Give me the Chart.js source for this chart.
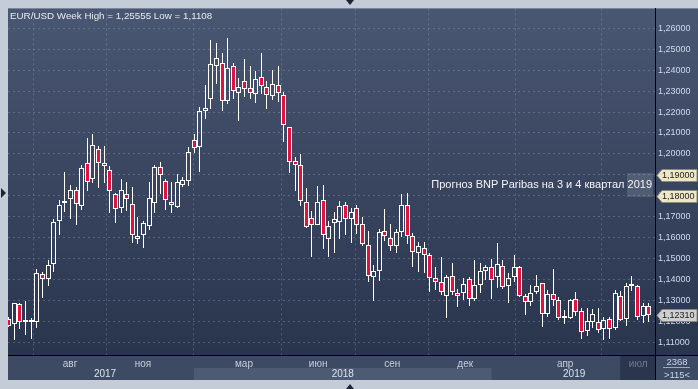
<!DOCTYPE html>
<html><head><meta charset="utf-8">
<script src="https://cdn.jsdelivr.net/npm/chart.js@4"></script>
<style>html,body{margin:0;padding:0;background:#c3ccd7;overflow:hidden}</style>
</head><body>
<canvas id="c" width="698" height="389"></canvas>
<script>
// Weekly EUR/USD candles (index 0 = first visible week)
const opens  = [1.1210,1.1184,1.1280,1.1197,1.1205,1.1197,1.1425,1.1399,1.1471,1.1677,1.1764,1.1785,1.1825,1.1751,1.1954,1.1882,1.2021,1.1944,1.1925,1.1810,1.1739,1.1806,1.1762,1.1595,1.1614,1.1657,1.1767,1.1939,1.1872,1.1771,1.1746,1.1853,1.1870,1.2068,1.2033,1.2205,1.2264,1.2422,1.2436,1.2255,1.2422,1.2291,1.2350,1.2317,1.2286,1.2369,1.2322,1.2279,1.2331,1.2283,1.2126,1.1965,1.1949,1.1772,1.1691,1.1662,1.1777,1.1595,1.1670,1.1675,1.1753,1.1686,1.1739,1.1664,1.1562,1.1409,1.1438,1.1629,1.1598,1.1558,1.1625,1.1753,1.1605,1.1524,1.1550,1.1514,1.1404,1.1388,1.1318,1.1417,1.1336,1.1333,1.1399,1.1304,1.1372,1.1440,1.1457,1.1409,1.1464,1.1366,1.1409,1.1457,1.1318,1.1289,1.1337,1.1380,1.1235,1.1329,1.1300,1.1224,1.1216,1.1304,1.1248,1.1151,1.1194,1.1194,1.1161,1.1210,1.1168,1.1320,1.1211,1.1369,1.1367,1.1226,1.1270];
const highs  = [1.1221,1.1288,1.1288,1.1296,1.1214,1.1449,1.1436,1.1492,1.1688,1.1778,1.1912,1.1850,1.1842,1.1947,1.2076,1.2097,1.2036,1.2036,1.1941,1.1813,1.1882,1.1864,1.1840,1.1699,1.1677,1.1864,1.1949,1.1963,1.1882,1.1863,1.1902,1.1888,1.2031,1.2094,1.2224,1.2328,1.2543,1.2528,1.2481,1.2556,1.2436,1.2363,1.2452,1.2418,1.2395,1.2481,1.2350,1.2399,1.2418,1.2296,1.2127,1.1984,1.1999,1.1836,1.1729,1.1845,1.1853,1.1678,1.1722,1.1774,1.1771,1.1741,1.1754,1.1697,1.1630,1.1468,1.1641,1.1734,1.1664,1.1641,1.1807,1.1815,1.1622,1.1579,1.1576,1.1528,1.1458,1.1505,1.1419,1.1477,1.1352,1.1404,1.1412,1.1492,1.1476,1.1468,1.1498,1.1573,1.1492,1.1429,1.1515,1.1463,1.1329,1.1372,1.1420,1.1383,1.1350,1.1449,1.1316,1.1254,1.1305,1.1340,1.1261,1.1262,1.1256,1.1261,1.1218,1.1218,1.1348,1.1343,1.1383,1.1415,1.1372,1.1285,1.1285];
const lows   = [1.1170,1.1108,1.1163,1.1132,1.1116,1.1168,1.1312,1.1369,1.1436,1.1611,1.1721,1.1688,1.1660,1.1730,1.1823,1.1861,1.1837,1.1861,1.1718,1.1670,1.1718,1.1727,1.1574,1.1568,1.1550,1.1635,1.1715,1.1808,1.1730,1.1718,1.1741,1.1842,1.1845,1.2004,1.1913,1.2165,1.2213,1.2332,1.2205,1.2238,1.2261,1.2157,1.2274,1.2261,1.2243,1.2286,1.2214,1.2256,1.2248,1.2057,1.1909,1.1823,1.1751,1.1647,1.1507,1.1660,1.1544,1.1507,1.1526,1.1592,1.1614,1.1574,1.1616,1.1558,1.1388,1.1297,1.1393,1.1584,1.1536,1.1524,1.1603,1.1568,1.1460,1.1433,1.1428,1.1337,1.1347,1.1323,1.1213,1.1326,1.1266,1.1300,1.1272,1.1296,1.1333,1.1398,1.1305,1.1356,1.1352,1.1288,1.1388,1.1315,1.1230,1.1273,1.1329,1.1173,1.1221,1.1273,1.1205,1.1184,1.1211,1.1224,1.1113,1.1130,1.1165,1.1141,1.1110,1.1113,1.1158,1.1200,1.1176,1.1343,1.1205,1.1192,1.1197];
const closes = [1.1178,1.1286,1.1194,1.1205,1.1194,1.1428,1.1399,1.1466,1.1672,1.1753,1.1774,1.1825,1.1762,1.1930,1.1863,1.2040,1.1954,1.1954,1.1820,1.1734,1.1825,1.1782,1.1610,1.1606,1.1667,1.1791,1.1935,1.1901,1.1777,1.1753,1.1863,1.1874,1.2008,1.2030,1.2207,1.2221,1.2431,1.2460,1.2255,1.2412,1.2302,1.2322,1.2312,1.2293,1.2360,1.2326,1.2283,1.2336,1.2293,1.2137,1.1963,1.1945,1.1774,1.1648,1.1662,1.1772,1.1610,1.1657,1.1686,1.1750,1.1686,1.1724,1.1659,1.1571,1.1415,1.1442,1.1625,1.1606,1.1558,1.1624,1.1753,1.1608,1.1530,1.1560,1.1515,1.1406,1.1387,1.1337,1.1412,1.1339,1.1320,1.1378,1.1307,1.1371,1.1442,1.1457,1.1395,1.1471,1.1361,1.1404,1.1457,1.1321,1.1292,1.1333,1.1367,1.1235,1.1329,1.1302,1.1216,1.1213,1.1300,1.1245,1.1146,1.1200,1.1234,1.1156,1.1205,1.1163,1.1334,1.1206,1.1366,1.1377,1.1221,1.1270,1.1231];

const yTickValues = [1.11,1.12,1.13,1.14,1.15,1.16,1.17,1.18,1.19,1.20,1.21,1.22,1.23,1.24,1.25,1.26];
const monthTickPos = [10.92,23.92,41.9,55.1,68.3,81.3,99.1,112.1];
const monthLabels = ['авг','ноя','мар','июн','сен','дек','апр','июл'];
const yearLabels = ['2017','2018','2019'];
const yearLabelPos = [17.15,59.5,100.7];
const yearStartPos = [33.0,86.0];
const currentMonthStart = 108.9;
const forecastLevels = [1.19,1.18];
const lastPrice = 1.1231;
const titleText = 'EUR/USD Week High = 1,25555 Low = 1,1108';
const noteText = 'Прогноз BNP Paribas на 3 и 4 квартал 2019';
const cornerTop = '2368', cornerBottom = '>115<';

const fmt = v => v.toFixed(5).replace('.', ',');
const idx = opens.map((_, i) => i);
const lowerWick = idx.map(i => ({x: i, y: [lows[i], Math.min(opens[i], closes[i])]}));
const upperWick = idx.map(i => ({x: i, y: [Math.max(opens[i], closes[i]), highs[i]]}));
const bodies = idx.map(i => ({x: i, y: [opens[i], closes[i]]}));
const bodyFill = idx.map(i => closes[i] < opens[i] ? '#e5103d' : 'rgba(0,0,0,0)');

const FONT = '"Liberation Sans", Arial, sans-serif';

// keep bar edges on the pixel grid for crisp candles
const crisp = {
  id: 'crisp',
  afterDatasetsUpdate(chart) {
    chart.data.datasets.forEach((d, i) => {
      chart.getDatasetMeta(i).data.forEach(el => {
        el.x = Math.floor(el.x) + 0.5;
        el.y = Math.round(el.y);
        el.base = Math.round(el.base);
      });
    });
  }
};

const frame = {
  id: 'frame',
  beforeDraw(chart) {
    const {ctx, chartArea: a, scales: {x}} = chart;
    const W = chart.width, H = chart.height;
    ctx.save();
    ctx.fillStyle = '#c3ccd7'; ctx.fillRect(0, 0, W, H);
    const g = ctx.createLinearGradient(0, a.top, 0, a.bottom);
    g.addColorStop(0, '#4a5772'); g.addColorStop(1, '#29344d');
    ctx.fillStyle = g; ctx.fillRect(a.left, a.top, W - a.left, a.bottom - a.top);
    ctx.fillStyle = '#3d4a63'; ctx.fillRect(a.left, a.bottom, W - a.left, x.bottom - a.bottom);
    const b0 = x.getPixelForValue(yearStartPos[0]), b1 = x.getPixelForValue(yearStartPos[1]);
    ctx.fillStyle = '#4d5a73'; ctx.fillRect(b0, a.bottom + 13, b1 - b0, x.bottom - a.bottom - 13);
    const jb = x.getPixelForValue(currentMonthStart);
    ctx.fillStyle = '#2b364d'; ctx.fillRect(jb, a.bottom + 1, a.right - jb, x.bottom - a.bottom - 1);
    ctx.fillStyle = '#1e2635';
    ctx.beginPath(); ctx.moveTo(346, 0); ctx.lineTo(354, 0); ctx.lineTo(350, 5); ctx.fill();
    ctx.beginPath(); ctx.moveTo(1, 188); ctx.lineTo(6, 193); ctx.lineTo(1, 198); ctx.fill();
    ctx.beginPath(); ctx.moveTo(346, 389); ctx.lineTo(354, 389); ctx.lineTo(350, 384); ctx.fill();
    ctx.restore();
  },
  afterDraw(chart) {
    const {ctx, chartArea: a, scales: {x, y}} = chart;
    const W = chart.width;
    ctx.save();
    ctx.strokeStyle = '#000'; ctx.lineWidth = 1;
    ctx.beginPath(); ctx.moveTo(a.left, a.bottom + 0.5); ctx.lineTo(W, a.bottom + 0.5); ctx.stroke();
    ctx.beginPath(); ctx.moveTo(a.right + 0.5, a.top); ctx.lineTo(a.right + 0.5, x.bottom); ctx.stroke();
    ctx.font = '10px ' + FONT; ctx.fillStyle = '#dde3ec'; ctx.textAlign = 'center'; ctx.textBaseline = 'middle';
    yearLabels.forEach((t, i) => ctx.fillText(t, x.getPixelForValue(yearLabelPos[i]), 374));
    ctx.font = '9.5px ' + FONT; ctx.fillStyle = '#c8d4e8';
    ctx.fillText(cornerTop, 677, 362);
    ctx.fillText(cornerBottom, 677, 375);
    ctx.strokeStyle = '#9aa8c0';
    ctx.beginPath(); ctx.moveTo(663, 367.5); ctx.lineTo(690, 367.5); ctx.stroke();
    ctx.textAlign = 'left'; ctx.textBaseline = 'alphabetic';
    ctx.font = '9.8px ' + FONT; ctx.fillStyle = '#e6eaf0';
    ctx.fillText(titleText, 10, 18.5);
    ctx.fillStyle = 'rgba(255,255,255,0.13)';
    ctx.fillRect(627, 173, 26, 24);
    ctx.font = '11px ' + FONT; ctx.fillStyle = '#f2f4f8'; ctx.textAlign = 'right';
    ctx.fillText(noteText, 652, 187.5);
    const tag = (v, fill) => {
      const py = Math.round(y.getPixelForValue(v)) + 0.5;
      ctx.beginPath();
      ctx.moveTo(657, py); ctx.lineTo(662, py - 6); ctx.lineTo(697, py - 6); ctx.lineTo(697, py + 6); ctx.lineTo(662, py + 6); ctx.closePath();
      ctx.fillStyle = fill; ctx.fill();
      ctx.strokeStyle = '#8a8a7a'; ctx.stroke();
      ctx.font = '9px ' + FONT; ctx.fillStyle = '#1c1c1c'; ctx.textAlign = 'left'; ctx.textBaseline = 'middle';
      ctx.fillText(fmt(v), 662, py);
    };
    forecastLevels.forEach(v => tag(v, '#efe8c6'));
    tag(lastPrice, '#cfcfcf');
    ctx.restore();
  }
};

new Chart(document.getElementById('c'), {
  type: 'bar',
  data: {
    datasets: [
      {data: bodies, backgroundColor: bodyFill, borderColor: '#ffffff', borderWidth: 1, borderSkipped: false, barThickness: 5, minBarLength: 2, grouped: false, inflateAmount: 0},
      {data: lowerWick, backgroundColor: '#ffffff', borderWidth: 0, barThickness: 1, grouped: false, inflateAmount: 0},
      {data: upperWick, backgroundColor: '#ffffff', borderWidth: 0, barThickness: 1, grouped: false, inflateAmount: 0}
    ]
  },
  options: {
    responsive: false, animation: false, devicePixelRatio: 1,
    layout: {padding: {left: 8, top: 8, right: 0, bottom: 9}},
    plugins: {legend: {display: false}, tooltip: {enabled: false}},
    scales: {
      x: {
        type: 'linear', min: -0.125, max: 115.1, offset: false,
        afterBuildTicks: s => { s.ticks = monthTickPos.map(v => ({value: v})); },
        afterFit: s => { s.height = 25; },
        ticks: {
          autoSkip: false, maxRotation: 0, padding: 3,
          font: {family: FONT, size: 10},
          color: c => c.index === 7 ? '#6f7b90' : '#c6cedb',
          callback: (v, i) => monthLabels[i]
        },
        grid: {color: 'rgba(150,165,190,0.35)', drawTicks: false},
        border: {display: true, color: '#000', width: 1, dash: [2, 3]}
      },
      y: {
        type: 'linear', position: 'right', min: 1.10379, max: 1.26956,
        afterBuildTicks: s => { s.ticks = yTickValues.map(v => ({value: v})); },
        afterFit: s => { s.width = 43; },
        ticks: {
          padding: 3, font: {family: FONT, size: 9}, color: '#cdd9ee',
          callback: v => fmt(v)
        },
        grid: {color: 'rgba(150,165,190,0.35)', drawTicks: false},
        border: {display: true, color: '#000', width: 1, dash: [2, 3]}
      }
    }
  },
  plugins: [crisp, frame]
});
</script>
</body></html>
